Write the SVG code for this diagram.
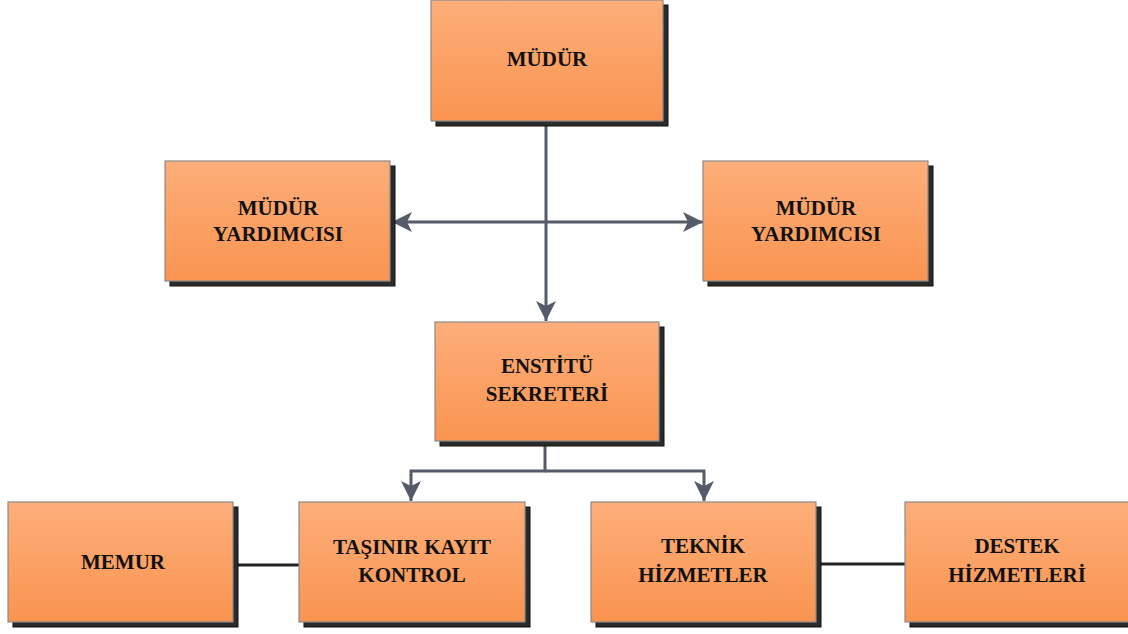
<svg xmlns="http://www.w3.org/2000/svg" width="1128" height="634" viewBox="0 0 1128 634">
<defs>
<linearGradient id="g" x1="0" y1="0" x2="0" y2="1">
<stop offset="0" stop-color="#FDAE7A"/>
<stop offset="1" stop-color="#F99450"/>
</linearGradient>
<marker id="ah" viewBox="0 0 20 20" refX="20" refY="10" markerWidth="20" markerHeight="20" markerUnits="userSpaceOnUse" orient="auto">
<path d="M0,0 L20,10 L0,20 L5,10 Z" fill="#555B68"/>
</marker>
<style>
.sh{fill:#2b2b2b;stroke:#111;stroke-width:1}
.bx{fill:url(#g);stroke:#8a8a8a;stroke-width:1.2}
.t{font-family:"Liberation Serif",serif;font-weight:bold;font-size:21px;fill:#111;text-anchor:middle}
.c{fill:none;stroke:#555B68;stroke-width:3}
.d{fill:none;stroke:#222;stroke-width:3}
</style>
</defs>
<rect width="1128" height="634" fill="#fff"/>
<g id="connectors">
<line class="c" x1="546" y1="121" x2="546" y2="321" marker-end="url(#ah)"/>
<line class="c" x1="546" y1="222" x2="392" y2="222" marker-end="url(#ah)"/>
<line class="c" x1="546" y1="222" x2="703" y2="222" marker-end="url(#ah)"/>
<polyline class="c" points="545,441 545,471 411,471 411,501" marker-end="url(#ah)"/>
<polyline class="c" points="545,471 704,471 704,501" marker-end="url(#ah)"/>
<line class="d" x1="238" y1="565" x2="300" y2="565"/>
<line class="d" x1="820" y1="564" x2="906" y2="564"/>
</g>
<g id="mudur">
<rect class="sh" x="436" y="5" width="232" height="121"/>
<rect class="bx" x="431" y="0" width="232" height="121"/>
<text class="t" x="547" y="66">MÜDÜR</text>
</g>
<g id="yardimci-sol">
<rect class="sh" x="170" y="166" width="225" height="120"/>
<rect class="bx" x="165" y="161" width="225" height="120"/>
<text class="t" x="278" y="215">MÜDÜR</text>
<text class="t" x="278" y="241">YARDIMCISI</text>
</g>
<g id="yardimci-sag">
<rect class="sh" x="708" y="166" width="225" height="120"/>
<rect class="bx" x="703" y="161" width="225" height="120"/>
<text class="t" x="816" y="215">MÜDÜR</text>
<text class="t" x="816" y="241">YARDIMCISI</text>
</g>
<g id="sekreter">
<rect class="sh" x="440" y="327" width="224" height="119"/>
<rect class="bx" x="435" y="322" width="224" height="119"/>
<text class="t" x="547" y="373">ENSTİTÜ</text>
<text class="t" x="547" y="401">SEKRETERİ</text>
</g>
<g id="memur">
<rect class="sh" x="13" y="507" width="225" height="120"/>
<rect class="bx" x="8" y="502" width="225" height="120"/>
<text class="t" x="123" y="569">MEMUR</text>
</g>
<g id="tasinir">
<rect class="sh" x="304" y="507" width="226" height="120"/>
<rect class="bx" x="299" y="502" width="226" height="120"/>
<text class="t" x="412" y="554">TAŞINIR KAYIT</text>
<text class="t" x="412" y="582">KONTROL</text>
</g>
<g id="teknik">
<rect class="sh" x="596" y="507" width="225" height="120"/>
<rect class="bx" x="591" y="502" width="225" height="120"/>
<text class="t" x="703" y="553">TEKNİK</text>
<text class="t" x="703" y="582">HİZMETLER</text>
</g>
<g id="destek">
<rect class="sh" x="910" y="507" width="225" height="120"/>
<rect class="bx" x="905" y="502" width="225" height="120"/>
<text class="t" x="1017" y="553">DESTEK</text>
<text class="t" x="1017" y="582">HİZMETLERİ</text>
</g>
</svg>
